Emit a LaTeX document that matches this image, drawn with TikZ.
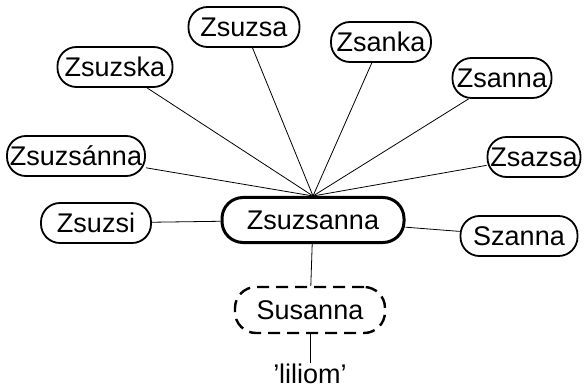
\documentclass[tikz,border=0pt]{standalone}
\usepackage{fontspec}
\setmainfont{Liberation Sans}
\usetikzlibrary{positioning}
\definecolor{InkDark}{HTML}{000000}
\tikzset{
  nick/.style={rectangle, draw=InkDark, line width=1.8pt, fill=white,
               rounded corners=19pt, minimum height=40pt, inner sep=2pt,
               font=\fontsize{27}{30}\selectfont, minimum width=#1},
  nick/.default=100pt,
  rootname/.style={nick=182pt, line width=3pt, minimum height=45pt, rounded corners=21pt},
  origin/.style={nick=150pt, line width=2.4pt, dash pattern=on 12pt off 7pt, minimum height=46pt, rounded corners=21pt},
  gloss/.style={font=\fontsize{27}{30}\selectfont, inner sep=1pt},
  spoke/.style={line width=0.8pt, draw=InkDark},
}
\begin{document}
\begin{tikzpicture}[x=1pt, y=-1pt]
\useasboundingbox (0,0) rectangle (586,390);
% ===================== centre name and its origin
\node[rootname] (zsuzsanna) at (313,220) {Zsuzsanna};
\node[origin] (susanna) at (310,310) {Susanna};
\node[gloss, below=29pt of susanna] (liliom) {'liliom'};
% ===================== nicknames round the centre
\node[nick=111pt] (zsuzsa) at (244,27) {Zsuzsa};
\node[nick=100pt] (zsanka) at (381,42) {Zsanka};
\node[nick=115pt] (zsuzska) at (115,67) {Zsuzska};
\node[nick=99pt] (zsanna) at (502,78) {Zsanna};
\node[nick=138pt] (zsuzsanna2) at (76,156) {Zsuzsánna};
\node[nick=93pt] (zsazsa) at (534,157) {Zsazsa};
\node[nick=110pt] (zsuzsi) at (96,223) {Zsuzsi};
\node[nick=117pt] (szanna) at (519,236) {Szanna};
% spokes meeting on top of the centre
\foreach \n in {zsuzsa,zsanka,zsuzska,zsanna,zsuzsanna2,zsazsa}
  \draw[spoke] (\n) -- (zsuzsanna.north);
\draw[spoke] (zsuzsi) -- (zsuzsanna);
\draw[spoke] (zsuzsanna) -- (szanna);
\draw[spoke] (zsuzsanna) -- (susanna);
\draw[spoke] (susanna) -- (liliom);
\end{tikzpicture}
\end{document}
